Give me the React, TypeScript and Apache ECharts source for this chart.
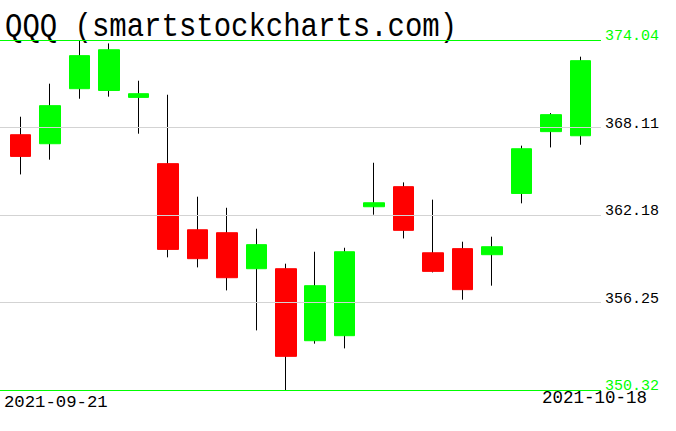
import React, { useEffect, useRef } from "react";
import * as echarts from "echarts";

const titleText = "QQQ (smartstockcharts.com)";
const dates = [
  "2021-09-21", "2021-09-22", "2021-09-23", "2021-09-24", "2021-09-27",
  "2021-09-28", "2021-09-29", "2021-09-30", "2021-10-01", "2021-10-04",
  "2021-10-05", "2021-10-06", "2021-10-07", "2021-10-08", "2021-10-11",
  "2021-10-12", "2021-10-13", "2021-10-14", "2021-10-15", "2021-10-18",
];
const opens = [
  367.62, 367.01, 370.74, 370.62, 370.15, 365.66, 361.18, 360.98, 358.54, 358.54,
  353.66, 354.0, 362.74, 364.1, 359.62, 359.9, 359.49, 363.64, 367.83, 367.55,
];
const closes = [
  366.15, 369.59, 372.98, 373.38, 370.4, 359.85, 359.22, 357.93, 360.17, 352.6,
  357.39, 359.69, 363.01, 361.14, 358.36, 357.12, 360.03, 366.67, 368.98, 372.64,
];
const lows = [
  364.93, 365.93, 370.06, 370.2, 367.69, 359.31, 358.63, 357.07, 354.36, 350.32,
  353.46, 353.14, 362.2, 360.59, 358.29, 356.44, 357.39, 362.97, 366.76, 366.94,
];
const highs = [
  368.84, 371.08, 374.04, 373.81, 371.28, 370.33, 363.42, 362.67, 361.25, 358.88,
  359.69, 359.96, 365.72, 364.39, 363.22, 360.37, 360.71, 366.88, 369.09, 372.91,
];
const yTicks = [350.32, 356.25, 362.18, 368.11, 374.04];
const yMin = 350.32;
const yMax = 374.04;

const GREEN = "#00ff00";
const RED = "#ff0000";
const GRAY = "#d3d3d3";
const FONT = "Liberation Mono";

export default function App() {
  const ref = useRef<HTMLDivElement>(null);
  useEffect(() => {
    if (!ref.current) return;
    const chart = echarts.init(ref.current, null, { renderer: "svg" });
    const full = dates.map((_, i) => [opens[i], closes[i], lows[i], highs[i]]);
    const bodies = dates.map((_, i) => [
      opens[i],
      closes[i],
      Math.min(opens[i], closes[i]),
      Math.max(opens[i], closes[i]),
    ]);
    const lastIdx = dates.length - 1;
    chart.setOption({
      animation: false,
      backgroundColor: "#ffffff",
      grid: [
        { left: 6, width: 589, top: 40, height: 350 },
        { left: 0, width: 601, top: 40, height: 350 },
      ],
      xAxis: [
        { type: "category", data: dates, gridIndex: 0, show: false, boundaryGap: true },
        { type: "value", gridIndex: 1, min: 0, max: 1, show: false },
      ],
      yAxis: [
        { type: "value", gridIndex: 0, min: yMin, max: yMax, show: false, splitLine: { show: false } },
        { type: "value", gridIndex: 1, min: yMin, max: yMax, show: false, splitLine: { show: false } },
      ],
      graphic: [
        {
          type: "text",
          x: 5,
          y: 11,
          scaleY: 1.12,
          style: { text: titleText, font: `29px "${FONT}"`, fill: "#000" },
        },
        {
          type: "text",
          left: 4,
          top: 394,
          style: { text: dates[0], font: `17.3px "${FONT}"`, fill: "#000" },
        },
        {
          type: "text",
          right: 29,
          top: 389,
          style: { text: dates[lastIdx], font: `17.5px "${FONT}"`, fill: "#000" },
        },
      ],
      series: [
        {
          type: "candlestick",
          xAxisIndex: 0,
          yAxisIndex: 0,
          data: full,
          barWidth: 1,
          z: 2,
          itemStyle: {
            color: "#000",
            color0: "#000",
            borderColor: "#000",
            borderColor0: "#000",
            borderWidth: 1,
          },
        },
        {
          type: "candlestick",
          xAxisIndex: 0,
          yAxisIndex: 0,
          data: bodies,
          barWidth: 21,
          z: 3,
          itemStyle: {
            color: GREEN,
            color0: RED,
            borderColor: GREEN,
            borderColor0: RED,
            borderWidth: 1,
          },
        },
        {
          type: "line",
          xAxisIndex: 1,
          yAxisIndex: 1,
          data: [],
          z: 4,
          markLine: {
            silent: true,
            symbol: "none",
            z: 6,
            data: yTicks.map((v, i) => {
              const edge = i === 0 || i === yTicks.length - 1;
              return {
                yAxis: v,
                lineStyle: { color: edge ? GREEN : GRAY, width: edge ? 1.2 : 1, type: "solid" },
                label: {
                  show: true,
                  position: "end",
                  distance: 4,
                  formatter: v.toFixed(2),
                  color: edge ? GREEN : "#000",
                  fontFamily: FONT,
                  fontSize: 15,
                  align: "left",
                  verticalAlign: "bottom",
                  lineHeight: 7,
                },
              };
            }),
          },
        },
      ],
    });
    return () => chart.dispose();
  }, []);
  return <div ref={ref} style={{ width: 676, height: 431, position: "absolute", left: 0, top: 0 }} />;
}
